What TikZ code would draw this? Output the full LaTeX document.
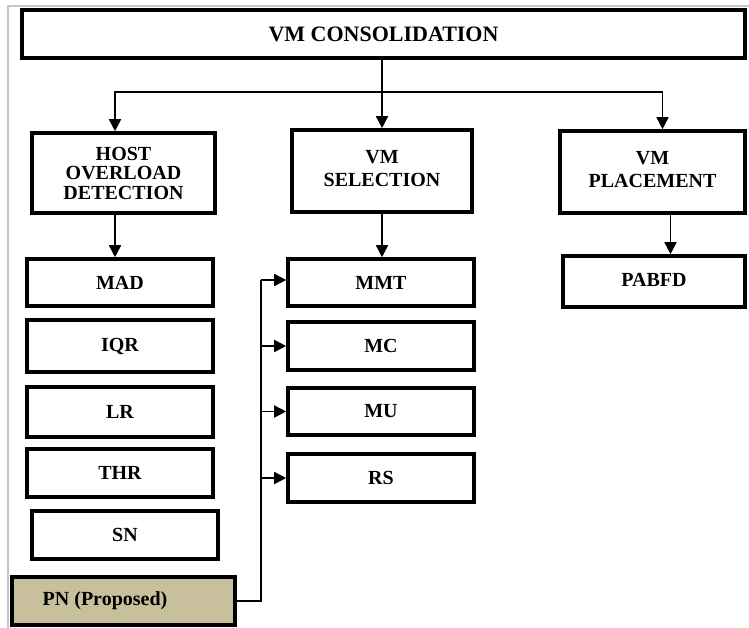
\documentclass[tikz,border=0pt]{standalone}
\usepackage{fontspec}
\setmainfont{Liberation Serif}
\usetikzlibrary{arrows.meta}
\definecolor{pnfill}{RGB}{200,191,156}
\begin{document}
\begin{tikzpicture}[x=1pt,y=-1pt,
  box/.style={draw=black, line width=3.6pt, fill=white, inner sep=0pt,
    font=\fontsize{20}{19.5}\selectfont\bfseries, align=center},
  conn/.style={line width=1.6pt},
  arr/.style={line width=1.6pt, -{Triangle[length=12pt,width=12pt]}}]
\useasboundingbox (0,0) rectangle (749,628);
\draw[gray!45, line width=1.8pt] (8,628) -- (8,6) -- (749,6);

\node[box, minimum width=723pt, minimum height=48pt, font=\fontsize{22}{24}\selectfont\bfseries] (top) at (383.5,34) {VM CONSOLIDATION};

\node[box, minimum width=183pt, minimum height=80pt] (host) at (123.5,173) {HOST\\OVERLOAD\\DETECTION};
\node[box, minimum width=180pt, minimum height=82pt] (sel) at (382,171) {\raisebox{8pt}{\begin{tabular}{@{}c@{}}VM\\[3pt]SELECTION\end{tabular}}};
\node[box, minimum width=185pt, minimum height=82pt] (place) at (652.5,172) {\raisebox{8pt}{\begin{tabular}{@{}c@{}}VM\\[3pt]PLACEMENT\end{tabular}}};

\node[box, minimum width=186pt, minimum height=47pt] (mad) at (120,282.5) {MAD};
\node[box, minimum width=186pt, minimum height=52pt] (iqr) at (120,346) {IQR};
\node[box, minimum width=186pt, minimum height=50pt] (lr) at (120,412) {LR};
\node[box, minimum width=186pt, minimum height=48pt] (thr) at (120,473) {THR};
\node[box, minimum width=186pt, minimum height=48pt] (sn) at (125,535) {SN};
\node[box, fill=pnfill, minimum width=223pt, minimum height=48pt] (pn) at (123.5,601) {PN (Proposed)\hspace*{37pt}};

\node[box, minimum width=186pt, minimum height=47pt] (mmt) at (381,282.5) {MMT};
\node[box, minimum width=186pt, minimum height=48pt] (mc) at (381,346) {MC};
\node[box, minimum width=186pt, minimum height=47pt] (mu) at (381,411.5) {MU};
\node[box, minimum width=186pt, minimum height=48pt] (rs) at (381,478) {RS};

\node[box, minimum width=182pt, minimum height=51pt] (pabfd) at (654,281.5) {\raisebox{3pt}{PABFD}};

% top distribution
\coordinate (j) at (sel.north |- 0,92);
\draw[arr] (top.south -| sel.north) -- (sel.north);
\draw[arr] (j) -| ([xshift=-8.5pt]host.north);
\draw[arr] (j) -| ([xshift=10pt]place.north);

% down arrows
\draw[arr] ([xshift=-8.5pt]host.south) -- ([xshift=-8.5pt]host.south |- mad.north);
\draw[arr] (sel.south) -- (sel.south |- mmt.north);
\draw[arr] ([xshift=18pt]place.south) -- ([xshift=18pt]place.south |- pabfd.north);

% PN bus
\coordinate (bus) at (261,280);
\draw[conn] (pn.east) -| (bus);
\draw[arr] (bus) -- (bus -| mmt.west);
\draw[arr] (bus |- mc.west) -- (mc.west);
\draw[arr] (bus |- mu.west) -- (mu.west);
\draw[arr] (bus |- rs.west) -- (rs.west);
\end{tikzpicture}
\end{document}
